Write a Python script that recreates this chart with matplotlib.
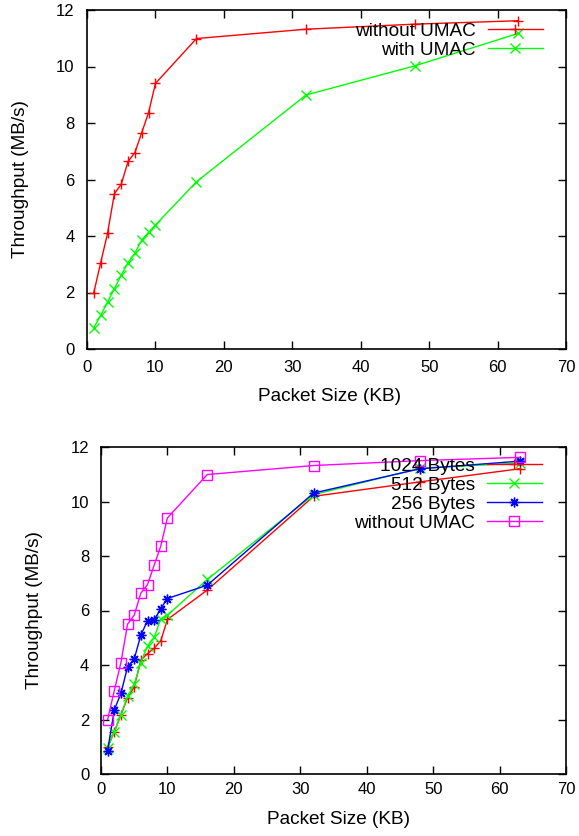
import matplotlib
matplotlib.use("Agg")
import matplotlib.pyplot as plt

plt.rcParams['font.family'] = ['Liberation Sans', 'DejaVu Sans']

# ---- data ----
packet_kb = [1, 2, 3, 4, 5, 6, 7, 8, 9, 10, 16, 32, 48, 63]
without_umac = [2.0, 3.06, 4.09, 5.5, 5.83, 6.64, 6.95, 7.66, 8.37, 9.4, 10.99, 11.32, 11.5, 11.62]
with_umac = [0.76, 1.19, 1.66, 2.14, 2.61, 3.06, 3.39, 3.86, 4.13, 4.39, 5.92, 8.99, 10.03, 11.17]
bytes_1024 = [0.99, 1.55, 2.17, 2.8, 3.2, 4.18, 4.42, 4.61, 4.89, 5.67, 6.75, 10.19, 10.72, 11.2]
bytes_512 = [0.95, 1.55, 2.17, 2.86, 3.29, 4.09, 4.7, 5.01, 5.69, 5.83, 7.14, 10.25, 11.22, 11.41]
bytes_256 = [0.86, 2.35, 2.96, 3.93, 4.22, 5.10, 5.62, 5.65, 6.07, 6.44, 6.93, 10.31, 11.2, 11.48]

x_ticks = [0, 10, 20, 30, 40, 50, 60, 70]
y_ticks = [0, 2, 4, 6, 8, 10, 12]
xlabel = "Packet Size (KB)"
ylabel = "Throughput (MB/s)"

RED, GREEN, BLUE, MAG = "#ff0000", "#00ff00", "#0000ff", "#ff00ff"
ASTER = (8, 2, 0)

fig = plt.figure(figsize=(5.79, 8.36), dpi=100)
W, H = 579.0, 836.0

def make_axes(l, r, t, b):
    return fig.add_axes([l / W, 1 - b / H, (r - l) / W, (b - t) / H])

ax1 = make_axes(87, 566, 10, 349)
ax2 = make_axes(101, 566, 447, 774)

line_kw = dict(lw=1.0, ms=7, mew=1.0)

ax1.plot(packet_kb, without_umac, color=RED, marker='+', label='without UMAC', **line_kw)
ax1.plot(packet_kb, with_umac, color=GREEN, marker='x', label='with UMAC', **line_kw)

ax2.plot(packet_kb, bytes_1024, color=RED, marker='+', label='1024 Bytes', **line_kw)
ax2.plot(packet_kb, bytes_512, color=GREEN, marker='x', label='512 Bytes', **line_kw)
ax2.plot(packet_kb, bytes_256, color=BLUE, marker=ASTER, label='256 Bytes', **line_kw)
ax2.plot(packet_kb, without_umac, color=MAG, marker='s', mfc='none', label='without UMAC',
         lw=1.0, ms=7, mew=1.0)

for ax, xpad, ypad in ((ax1, 8, 9), (ax2, 6, 8.5)):
    ax.set_xlim(0, 70)
    ax.set_ylim(0, 12)
    ax.set_xticks(x_ticks)
    ax.set_yticks(y_ticks)
    ax.tick_params(direction='in', length=5.8, width=1.0, top=True, right=True,
                   labelsize=12)
    ax.tick_params(axis='x', pad=xpad)
    ax.tick_params(axis='y', pad=ypad)
    for s in ax.spines.values():
        s.set_linewidth(1.2)
    ax.set_xlabel(xlabel, fontsize=13.7)
    ax.set_ylabel(ylabel, fontsize=13.7)

ax1.xaxis.set_label_coords(0.507, -0.1145)
ax1.yaxis.set_label_coords(-0.121, 0.5)
ax2.xaxis.set_label_coords(0.51, -0.113)
ax2.yaxis.set_label_coords(-0.124, 0.5)

leg_kw = dict(loc='upper right', frameon=False, markerfirst=False, fontsize=13.7,
              handlelength=2.9, handletextpad=0.63,
              borderpad=0, borderaxespad=0)
ax1.legend(bbox_to_anchor=(0.952, 0.964), labelspacing=0.12, **leg_kw)
ax2.legend(bbox_to_anchor=(0.948, 0.967), labelspacing=0.08, **leg_kw)

fig.savefig("out.png", dpi=100)
